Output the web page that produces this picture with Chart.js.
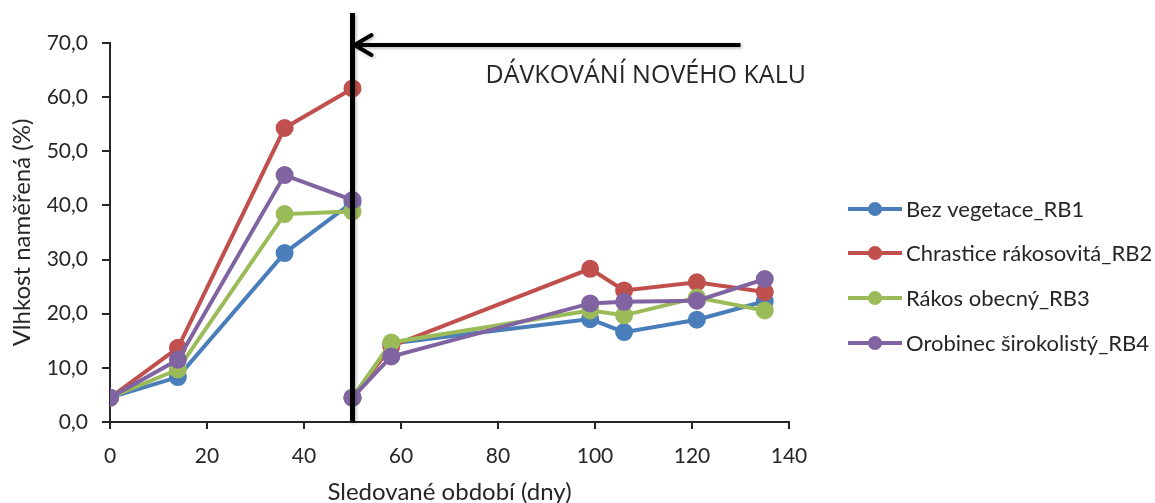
<!DOCTYPE html>
<html>
<head>
<meta charset="utf-8">
<script src="https://cdn.jsdelivr.net/npm/chart.js@4.4.1/dist/chart.umd.min.js"></script>
<style>
  html, body { margin: 0; padding: 0; background: #fff; }
  #wrap { width: 1155px; height: 503px; }
</style>
</head>
<body>
<div id="wrap"><canvas id="c" width="1155" height="503"></canvas></div>
<script>
// ---- data ----
const days = [0, 14, 36, 50, 50, 58, 99, 106, 121, 135];
const seriesNames = ['Bez vegetace_RB1', 'Chrastice rákosovitá_RB2', 'Rákos obecný_RB3', 'Orobinec širokolistý_RB4'];
const rb1 = [4.5, 8.3, 31.2, 40.6, 4.5, 14.5, 19.0, 16.6, 18.9, 22.3];
const rb2 = [4.5, 13.7, 54.3, 61.6, 4.5, 14.0, 28.3, 24.3, 25.8, 24.0];
const rb3 = [4.5, 9.7, 38.4, 38.9, 4.5, 14.7, 20.6, 19.7, 23.0, 20.6];
const rb4 = [4.5, 11.5, 45.6, 41.0, 4.5, 12.1, 21.9, 22.2, 22.4, 26.4];
const yTickLabels = ['0,0', '10,0', '20,0', '30,0', '40,0', '50,0', '60,0', '70,0'];
const xTickLabels = ['0', '20', '40', '60', '80', '100', '120', '140'];
const doseDay = 50;
const arrowEndDay = 130;
const annotationText = 'DÁVKOVÁNÍ NOVÉHO KALU';
const xTitle = 'Sledované období (dny)';
const yTitle = 'Vlhkost naměřená (%)';

const colors = ['#4A7EBB', '#C0504D', '#9BBB59', '#8064A2'];
const allSeries = [rb1, rb2, rb3, rb4];
const FONT = 'Lato';
const TXT = '#262626';

const datasets = allSeries.map((s, i) => ({
  label: seriesNames[i],
  data: days.map((d, k) => ({ x: d, y: s[k] })),
  borderColor: colors[i],
  backgroundColor: colors[i],
  pointBackgroundColor: colors[i],
  pointBorderColor: colors[i],
  borderWidth: 4,
  pointRadius: 7,
  pointHoverRadius: 7,
  tension: 0,
  order: 4 - i
}));

const overlay = {
  id: 'overlay',
  afterDatasetsDraw(chart) {
    const { ctx, chartArea, scales: { x } } = chart;
    const px = x.getPixelForValue(doseDay);
    const pEnd = x.getPixelForValue(arrowEndDay);
    ctx.save();
    ctx.shadowColor = 'rgba(0,0,0,0.25)';
    ctx.shadowBlur = 3;
    ctx.shadowOffsetX = 1.5;
    ctx.shadowOffsetY = 1.5;
    ctx.strokeStyle = '#000';
    ctx.lineCap = 'butt';
    ctx.lineWidth = 5;
    ctx.beginPath();
    ctx.moveTo(px, chartArea.top - 30);
    ctx.lineTo(px, chartArea.bottom);
    ctx.stroke();
    const ay = chartArea.top + 2;
    ctx.lineWidth = 4;
    ctx.beginPath();
    ctx.moveTo(pEnd, ay);
    ctx.lineTo(px + 2, ay);
    ctx.stroke();
    ctx.lineCap = 'round';
    ctx.lineJoin = 'miter';
    ctx.beginPath();
    ctx.moveTo(px + 19, ay - 10);
    ctx.lineTo(px + 2, ay);
    ctx.lineTo(px + 19, ay + 10);
    ctx.stroke();
    ctx.restore();

    ctx.save();
    ctx.fillStyle = TXT;
    ctx.font = '25px "Open Sans"';
    ctx.textBaseline = 'middle';
    ctx.textAlign = 'left';
    ctx.fillText(annotationText, px + 133, chartArea.top + 33);
    ctx.restore();
  },
  afterDraw(chart) {
    const { ctx, chartArea } = chart;
    ctx.save();
    // legend
    const lx = chartArea.right + 59;
    const rows = [209, 253, 298, 343];
    ctx.font = '22px ' + FONT;
    ctx.textAlign = 'left';
    ctx.textBaseline = 'middle';
    chart.data.datasets.forEach((ds, i) => {
      const yy = rows[i];
      ctx.strokeStyle = ds.borderColor;
      ctx.lineWidth = 4;
      ctx.beginPath();
      ctx.moveTo(lx, yy);
      ctx.lineTo(lx + 54, yy);
      ctx.stroke();
      ctx.fillStyle = ds.borderColor;
      ctx.beginPath();
      ctx.arc(lx + 27, yy, 7, 0, Math.PI * 2);
      ctx.fill();
      ctx.fillStyle = TXT;
      ctx.fillText(ds.label, lx + 58, yy + 1);
    });
    ctx.restore();
  }
};

new Chart(document.getElementById('c'), {
  type: 'line',
  data: { datasets },
  options: {
    responsive: false,
    animation: false,
    events: [],
    layout: { padding: { left: 0, top: 43, right: 366, bottom: 0 } },
    plugins: { legend: { display: false }, tooltip: { enabled: false } },
    scales: {
      x: {
        type: 'linear',
        min: 0, max: 140,
        ticks: {
          stepSize: 20,
          color: TXT,
          font: { family: FONT, size: 21 },
          padding: 15,
          maxRotation: 0,
          callback: (v, i) => xTickLabels[i]
        },
        grid: { drawOnChartArea: false, tickLength: 7, color: '#262626', lineWidth: 2 },
        border: { color: '#262626', width: 2 },
        title: {
          display: true,
          text: xTitle,
          color: TXT,
          font: { family: FONT, size: 24, lineHeight: 0.9 },
          padding: { top: 0, bottom: 0 }
        },
        afterFit(s) { s.height = 81; }
      },
      y: {
        min: 0, max: 70,
        ticks: {
          stepSize: 10,
          color: TXT,
          font: { family: FONT, size: 21 },
          padding: 14,
          callback: (v, i) => yTickLabels[i]
        },
        grid: { drawOnChartArea: false, tickLength: 8, color: '#262626', lineWidth: 2 },
        border: { color: '#262626', width: 2 },
        title: {
          display: true,
          text: yTitle,
          color: TXT,
          font: { family: FONT, size: 24 },
          padding: { top: 8, bottom: 0 }
        },
        afterFit(s) { s.width = 110; }
      }
    }
  },
  plugins: [overlay]
});
</script>
</body>
</html>
